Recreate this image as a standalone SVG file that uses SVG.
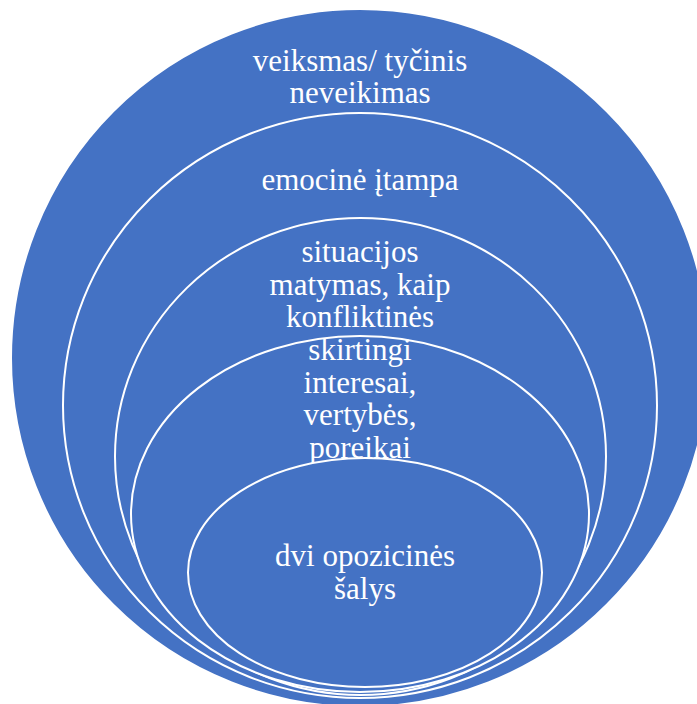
<svg xmlns="http://www.w3.org/2000/svg" width="697" height="704" viewBox="0 0 697 704">
  <style>
    .ring { fill: #4472C4; stroke: #FFFFFF; stroke-width: 2; }
    .label { fill: #FFFFFF; font-family: "Liberation Serif", "Times New Roman", serif; font-size: 31px; text-anchor: middle; }
  </style>
  <rect width="697" height="704" fill="#FFFFFF"/>
  <!-- stacked circles, outermost first; each carries its own label -->
  <g id="level-action">
    <circle class="ring" cx="360" cy="358" r="349"/>
    <text class="label" x="360" y="71">veiksmas/ tyčinis</text>
    <text class="label" x="360" y="103">neveikimas</text>
  </g>
  <g id="level-tension">
    <ellipse class="ring" cx="360" cy="405.5" rx="297" ry="292.5"/>
    <text class="label" x="360" y="190">emocinė įtampa</text>
  </g>
  <g id="level-perception">
    <ellipse class="ring" cx="360.5" cy="456.5" rx="245.5" ry="238.5"/>
    <text class="label" x="360" y="262">situacijos</text>
    <text class="label" x="360" y="294.5">matymas, kaip</text>
    <text class="label" x="360" y="327">konfliktinės</text>
  </g>
  <g id="level-interests">
    <ellipse class="ring" cx="360" cy="514" rx="229" ry="178"/>
    <text class="label" x="360" y="360">skirtingi</text>
    <text class="label" x="360" y="392.5">interesai,</text>
    <text class="label" x="360" y="425">vertybės,</text>
    <text class="label" x="360" y="457.5">poreikai</text>
  </g>
  <g id="level-parties">
    <ellipse class="ring" cx="365" cy="572.5" rx="177" ry="114.5"/>
    <text class="label" x="365" y="566">dvi opozicinės</text>
    <text class="label" x="365" y="598.5">šalys</text>
  </g>
  <g id="connectors"/>
</svg>
